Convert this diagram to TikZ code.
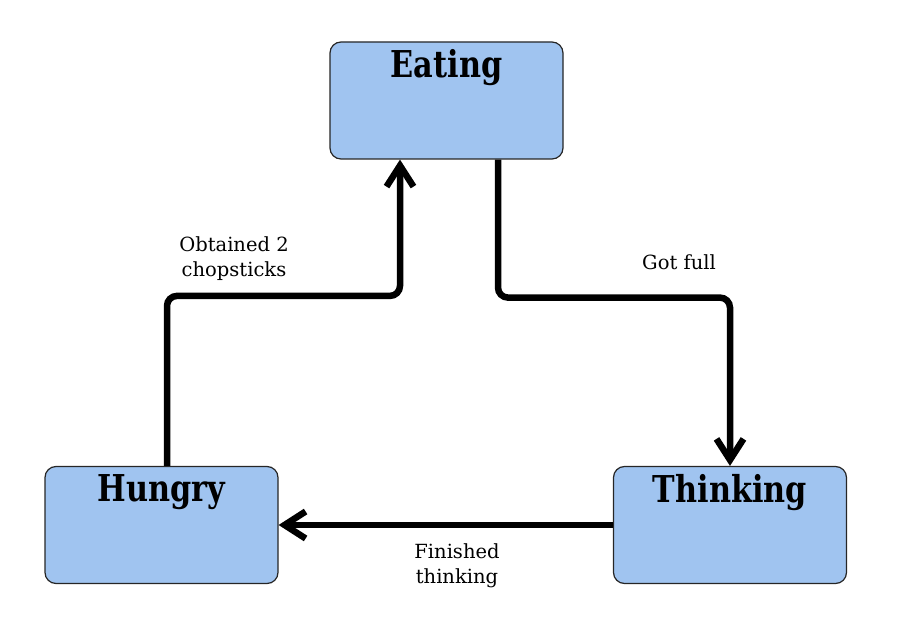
\documentclass[tikz,border=0pt]{standalone}
\usepackage{fontspec}
\setmainfont{DejaVu Serif}
\newfontfamily\titlefont[FakeStretch=0.82]{DejaVu Serif}
\usetikzlibrary{arrows.meta}
\definecolor{boxblue}{RGB}{160,196,240}
\begin{document}
\begin{tikzpicture}[x=1pt,y=-1pt,
    state/.style={draw=black!85,line width=1.2pt,fill=boxblue,rounded corners=11pt,
      minimum width=233pt,minimum height=117pt,
      label={[anchor=north,inner sep=0pt,yshift=-8pt,font=\titlefont\bfseries\fontsize{37}{40}\selectfont]north:#1}},
    move/.style={line width=6.5pt,rounded corners=10pt,-{Straight Barb[length=21pt,width=27pt]}},
    txt/.style={align=center,font=\fontsize{19.5}{25}\selectfont}]
  \useasboundingbox (0,0) rectangle (903,644);
  \node[state=Eating](E)   at(446.5,100.5) {};
  \node[state=Hungry](H)   at(161.5,525) {};
  \node[state=Thinking](T) at(730,525) {};

  \draw[move]([xshift=5.5pt]H.north)--++(0,-170)-|([xshift=-46.5pt]E.south);
  \draw[move]([xshift=51.5pt]E.south)--++(0,138)-|(T.north);
  \draw[move](T.west)--(H.east);

  \node[txt](l1) at(234,259) {Obtained 2\\chopsticks};
  \node[txt](l2) at(679,262) {Got full};
  \node[txt](l3) at(457,566) {Finished\\thinking};
\end{tikzpicture}
\end{document}
